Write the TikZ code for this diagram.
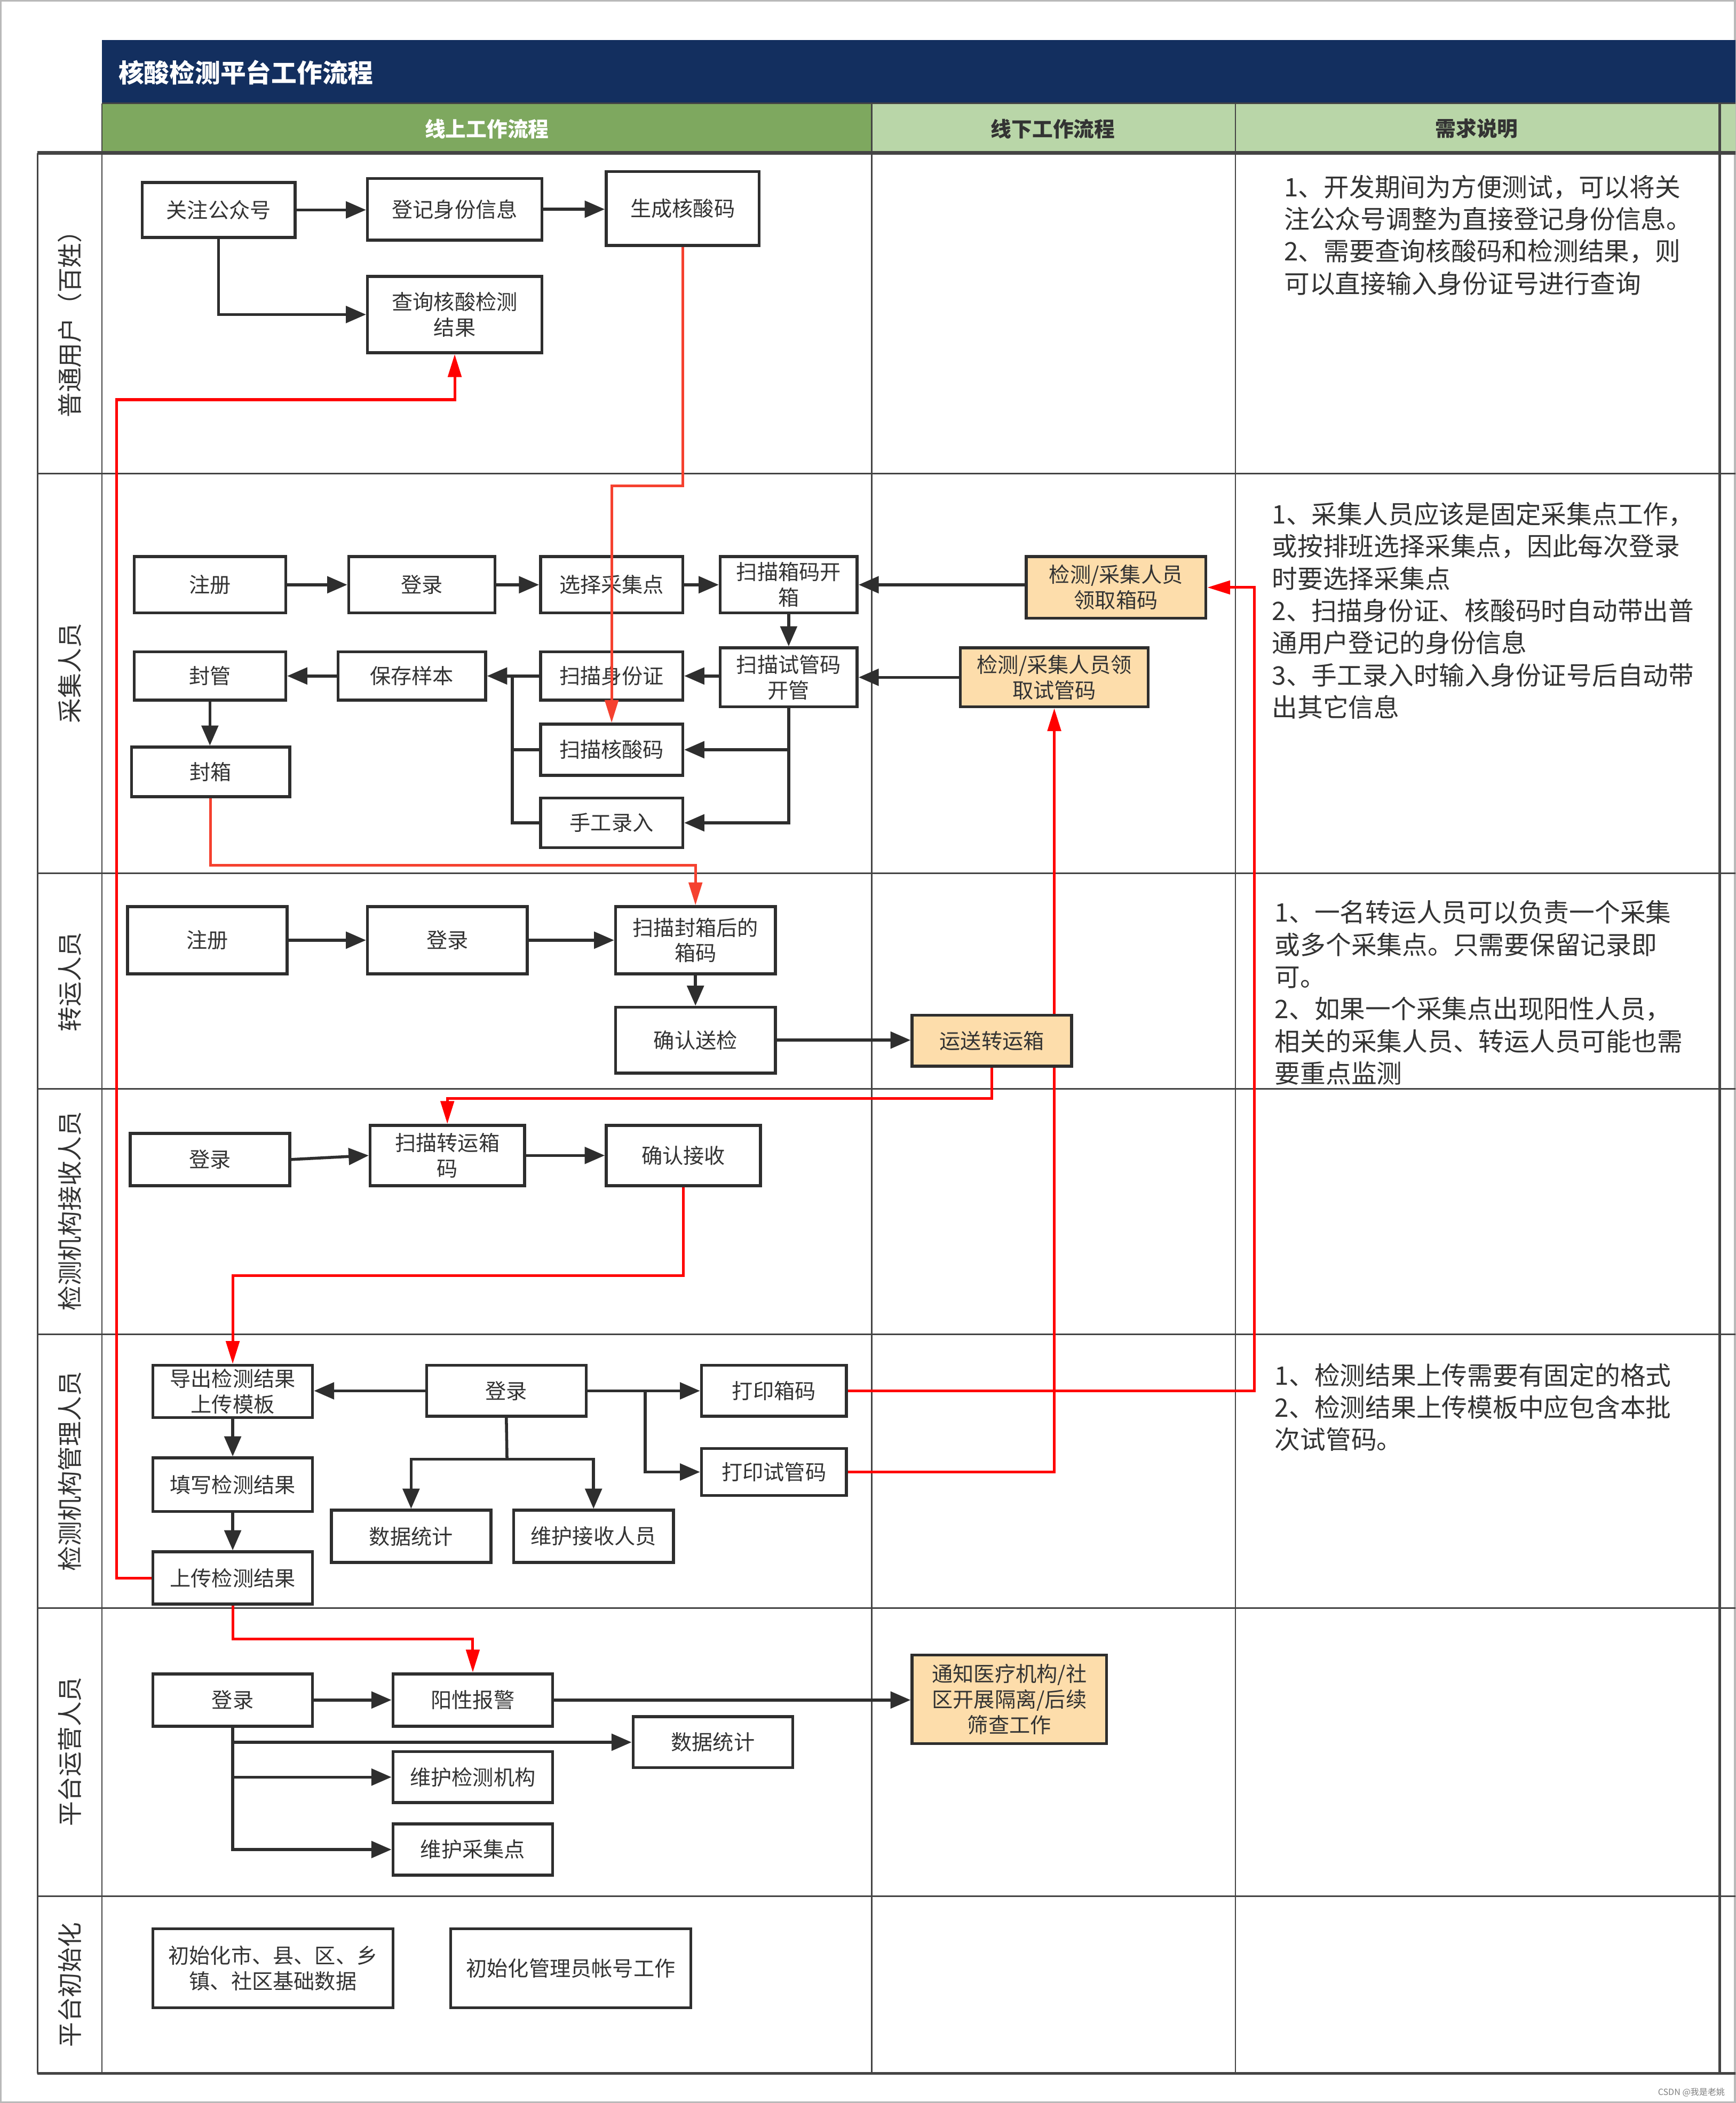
\documentclass[tikz,border=0pt]{standalone}
\usepackage{fontspec}
\setmainfont{Noto Sans CJK SC}
\usetikzlibrary{arrows.meta,calc}
\definecolor{navy}{HTML}{132F5F}
\definecolor{gdark}{HTML}{7EA85F}
\definecolor{glight}{HTML}{B9D6A8}
\definecolor{peachc}{HTML}{FDDDAB}
\definecolor{boxc}{HTML}{2E2E2E}
\definecolor{txt}{HTML}{333333}
\definecolor{laneln}{HTML}{444444}
\definecolor{redA}{HTML}{FF0000}
\definecolor{redB}{HTML}{F5412F}
\begin{document}
\begin{tikzpicture}[x=0.5pt,y=-0.5pt,
  box/.style={draw=boxc, line width=1.1pt, fill=white, inner sep=0pt, align=center,
    font=\fontsize{7.8pt}{9.5pt}\selectfont, text=txt},
  pbox/.style={box, fill=peachc},
  sz/.style 2 args={minimum width=#1pt, minimum height=#2pt},
  conn/.style={draw=boxc, line width=1.1pt, -{Triangle[length=7.5pt,width=6.2pt]}},
  ln/.style={draw=boxc, line width=1.1pt},
  rA/.style={draw=redA, line width=1pt, -{Triangle[length=8.5pt,width=5pt]}},
  rB/.style={draw=redB, line width=1pt, -{Triangle[length=8.5pt,width=5pt]}},
  lanelbl/.style={rotate=90, font=\fontsize{9.3pt}{11pt}\selectfont, text=txt},
  note/.style={anchor=north west, align=left, inner sep=0pt,
    font=\fontsize{9.5pt}{12pt}\selectfont, text=txt},
  hdr/.style={font=\bfseries\fontsize{7.7pt}{9pt}\selectfont}
]
\useasboundingbox (0,0) rectangle (1294,1568);
\fill[white] (0,0) rectangle (1294,1568);
\draw[gray!55, line width=0.8pt] (0.5,0.5) rectangle (1293.5,1567.5);

% header
\fill[navy] (76,30) rectangle (1294,77);
\fill[gdark] (76,77) rectangle (650,114);
\fill[glight] (650,77) rectangle (1294,114);
\node[anchor=west, inner sep=0pt, text=white, font=\bfseries\fontsize{9.5pt}{11pt}\selectfont] (title) at (88,54) {核酸检测平台工作流程};
\node[hdr, text=white] (h1) at (363,96) {线上工作流程};
\node[hdr, text=txt] (h2) at (785,96) {线下工作流程};
\node[hdr, text=txt] (h3) at (1101,96) {需求说明};
\draw[laneln, line width=0.5pt] (76,77) -- (1294,77);

% grid
\foreach \yy in {353,651,812,995,1199,1414}{
  \draw[laneln, line width=0.6pt] (28,\yy) -- (1294,\yy);
}
\draw[laneln, line width=1.3pt] (28,114) -- (1294,114);
\draw[laneln, line width=1pt] (28,1546) -- (1294,1546);
\draw[laneln, line width=0.5pt] (28,114) -- (28,1546);
\draw[laneln, line width=0.5pt] (76,77) -- (76,1546);
\draw[laneln, line width=0.5pt] (650,77) -- (650,1546);
\draw[laneln, line width=0.5pt] (921,77) -- (921,1546);
\draw[laneln, line width=1pt] (1282,77) -- (1282,1546);

% lane labels
\node[lanelbl] (l1) at (52,237) {普通用户（百姓）};
\node[lanelbl] (l2) at (52,502) {采集人员};
\node[lanelbl] (l3) at (52,732) {转运人员};
\node[lanelbl] (l4) at (52,903) {检测机构接收人员};
\node[lanelbl] (l5) at (52,1097) {检测机构管理人员};
\node[lanelbl] (l6) at (52,1306) {平台运营人员};
\node[lanelbl] (l7) at (52,1480) {平台初始化};

% notes
\node[note] (n1) at (957,130) {1、开发期间为方便测试，可以将关\\注公众号调整为直接登记身份信息。\\2、需要查询核酸码和检测结果，则\\可以直接输入身份证号进行查询};
\node[note] (n2) at (948,374) {1、采集人员应该是固定采集点工作，\\或按排班选择采集点，因此每次登录\\时要选择采集点\\2、扫描身份证、核酸码时自动带出普\\通用户登记的身份信息\\3、手工录入时输入身份证号后自动带\\出其它信息};
\node[note] (n3) at (950,671) {1、一名转运人员可以负责一个采集\\或多个采集点。只需要保留记录即\\可。\\2、如果一个采集点出现阳性人员，\\相关的采集人员、转运人员可能也需\\要重点监测};
\node[note] (n5) at (950,1016) {1、检测结果上传需要有固定的格式\\2、检测结果上传模板中应包含本批\\次试管码。};

% boxes drawn before the red line that passes behind 运送转运箱
\node[box, sz={65}{28.5}] (cx) at (339,234.5) {查询核酸检测\\结果};
\node[pbox, sz={70}{22}] (ls) at (786,505) {检测/采集人员领\\取试管码};
\node[box, sz={54}{17.5}] (ds) at (577,1097.5) {打印试管码};
\draw[rA] (ds.east) -| (ls.south);

% lane 1
\node[box, sz={57}{20.5}] (gz) at (163,156.5) {关注公众号};
\node[box, sz={65}{23}] (dj) at (339,156) {登记身份信息};
\node[box, sz={57}{27.5}] (sc) at (509,155.5) {生成核酸码};

% lane 2
\node[box, sz={56.5}{21}] (zc2) at (156.5,436) {注册};
\node[box, sz={54.5}{21}] (dl2) at (314.5,436) {登录};
\node[box, sz={53}{21}] (xz) at (456,436) {选择采集点};
\node[box, sz={51}{21}] (xk) at (588,436) {扫描箱码开\\箱};
\node[pbox, sz={67}{23}] (lx) at (832,438) {检测/采集人员\\领取箱码};
\node[box, sz={56.5}{18}] (fg) at (156.5,504) {封管};
\node[box, sz={55}{18}] (bc) at (307,504) {保存样本};
\node[box, sz={53}{18}] (sf) at (456,504) {扫描身份证};
\node[box, sz={51}{22}] (sg) at (588,505) {扫描试管码\\开管};
\node[box, sz={53}{19}] (hs) at (456,559) {扫描核酸码};
\node[box, sz={53}{18.5}] (sl) at (456,613.5) {手工录入};
\node[box, sz={59}{18.5}] (fx) at (157,575.5) {封箱};

% lane 3
\node[box, sz={59.5}{25}] (zc3) at (154.5,701) {注册};
\node[box, sz={59.5}{25}] (dl3) at (333.5,701) {登录};
\node[box, sz={59.5}{25}] (sx) at (518.5,701) {扫描封箱后的\\箱码};
\node[box, sz={59.5}{24.5}] (qs) at (518.5,775.5) {确认送检};
\node[pbox, sz={59.5}{19}] (ys) at (739.5,776) {运送转运箱};

% lane 4
\node[box, sz={59.5}{19.5}] (dl4) at (156.5,864.5) {登录};
\node[box, sz={57.5}{22.5}] (zy) at (333.5,861.5) {扫描转运箱\\码};
\node[box, sz={57.5}{22.5}] (qj) at (509.5,861.5) {确认接收};

% lane 5
\node[box, sz={59.5}{19.5}] (dc) at (173.5,1037.5) {导出检测结果\\上传模板};
\node[box, sz={59.5}{19}] (dl5) at (377.5,1037) {登录};
\node[box, sz={54}{19}] (dx) at (577,1037) {打印箱码};
\node[box, sz={59.5}{20}] (tx) at (173.5,1107) {填写检测结果};
\node[box, sz={59.5}{19.5}] (tj5) at (306.5,1145.5) {数据统计};
\node[box, sz={59.5}{19.5}] (wj) at (442.5,1145.5) {维护接收人员};
\node[box, sz={59.5}{19.5}] (sj) at (173.5,1176.5) {上传检测结果};

% lane 6
\node[box, sz={59.5}{19.5}] (dl6) at (173.5,1267.5) {登录};
\node[box, sz={59.5}{19.5}] (yb) at (352.5,1267.5) {阳性报警};
\node[box, sz={59.5}{19}] (tj6) at (531.5,1299) {数据统计};
\node[box, sz={59.5}{19}] (wjc) at (352.5,1325) {维护检测机构};
\node[box, sz={59.5}{19}] (wcj) at (352.5,1379) {维护采集点};
\node[pbox, sz={72.5}{33}] (tz) at (752.5,1267) {通知医疗机构/社\\区开展隔离/后续\\筛查工作};

% lane 7
\node[box, sz={89.5}{29.5}] (cs) at (203.5,1467.5) {初始化市、县、区、乡\\镇、社区基础数据};
\node[box, sz={89.5}{29.5}] (cg) at (425.5,1467.5) {初始化管理员帐号工作};

% black connectors lane 1
\draw[conn] (gz.east) -- (gz.east -| dj.west);
\draw[conn] (dj.east) -- (dj.east -| sc.west);
\draw[conn] (gz.south) |- (cx.west);

% lane 2
\draw[conn] (zc2.east) -- (dl2.west);
\draw[conn] (dl2.east) -- (xz.west);
\draw[conn] (xz.east) -- (xk.west);
\draw[conn] (lx.west |- xk.east) -- (xk.east);
\draw[conn] (xk.south) -- (sg.north);
\draw[conn] (ls.west) -- (ls.west -| sg.east);
\draw[conn] (sg.west |- sf.east) -- (sf.east);
\draw[conn] (sf.west) -- (bc.east);
\draw[conn] (bc.west) -- (fg.east);
\draw[conn] (fg.south) -- (fg.south |- fx.north);
\draw[conn] (sg.south) |- (hs.east);
\draw[conn] (sg.south) |- (sl.east);
\coordinate (m1) at (382,504);
\draw[ln] (hs.west) -| (m1);
\draw[ln] (sl.west) -| (m1);

% lane 3
\draw[conn] (zc3.east) -- (dl3.west);
\draw[conn] (dl3.east) -- (sx.west);
\draw[conn] (sx.south) -- (qs.north);
\draw[conn] (qs.east) -- (qs.east -| ys.west);

% lane 4
\draw[conn] (dl4.east) -- (zy.west);
\draw[conn] (zy.east) -- (qj.west);

% lane 5
\draw[conn] (dl5.west) -- (dl5.west -| dc.east);
\draw[conn] (dl5.east) -- (dl5.east -| dx.west);
\coordinate (b5) at (481,1037);
\draw[conn] (b5) |- (ds.west);
\coordinate (j6) at (378,1088);
\draw[ln] (dl5.south) -- (j6);
\draw[conn] (j6) -| (tj5.north);
\draw[conn] (j6) -| (wj.north);
\draw[conn] (dc.south) -- (tx.north);
\draw[conn] (tx.south) -- (sj.north);

% lane 6
\draw[conn] (dl6.east) -- (yb.west);
\draw[conn] (yb.east) -- (yb.east -| tz.west);
\draw[conn] (dl6.south) |- (tj6.west);
\draw[conn] (dl6.south) |- (wjc.west);
\draw[conn] (dl6.south) |- (wcj.west);

% red connectors
\coordinate (r1) at (87,298);
\draw[rA] (sj.west) -| (r1) -| (cx.south);
\draw[rB] (sc.south) -- ++(0,178) -| (hs.north);
\draw[rB] (fx.south) -- ++(0,50) -| (sx.north);
\draw[rA] (ys.south) -- ++(0,23) -| (zy.north);
\draw[rA] (qj.south) -- ++(0,66) -| (dc.north);
\coordinate (r2) at (935,1037);
\draw[rA] (dx.east) -- (r2) |- (lx.east);
\draw[rA] (sj.south) -- ++(0,25) -| (yb.north);

% watermark
\node[font=\fontsize{3.2pt}{4pt}\selectfont, text=gray] (wm) at (1261,1560) {CSDN @我是老姚};
\end{tikzpicture}
\end{document}
